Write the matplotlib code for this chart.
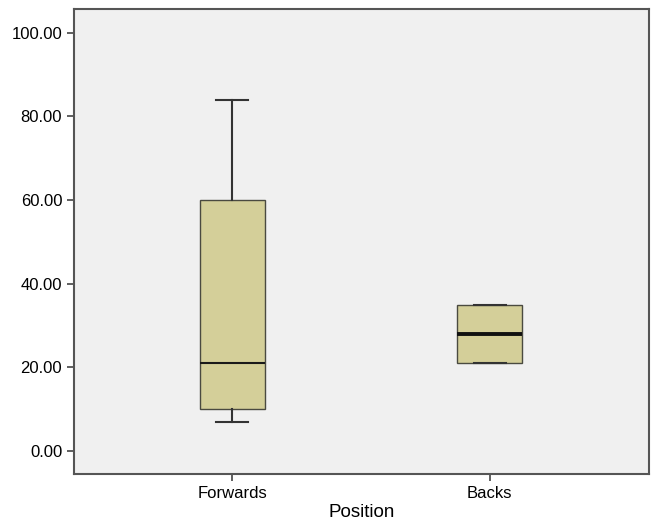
import matplotlib
matplotlib.use('Agg')
import matplotlib.pyplot as plt

plt.rcParams['font.family'] = ['Liberation Sans', 'DejaVu Sans']

# Box plot summary values
positions = ['Forwards', 'Backs']
whisker_low = [7, 21]
q1 = [10, 21]
median = [21, 28]
q3 = [60, 35]
whisker_high = [84, 35]
y_ticks = [0, 20, 40, 60, 80, 100]

stats = []
for i, name in enumerate(positions):
    stats.append({'label': name, 'whislo': whisker_low[i], 'q1': q1[i],
                  'med': median[i], 'q3': q3[i], 'whishi': whisker_high[i],
                  'fliers': []})

fig = plt.figure(figsize=(6.55, 5.22), dpi=100)
ax = fig.add_axes([0.113, 0.092, 0.878, 0.891])
ax.set_facecolor('#f0f0f0')

bp = ax.bxp(stats, positions=[1, 2], widths=0.252, patch_artist=True,
            showfliers=False,
            boxprops=dict(facecolor='#d4cf99', edgecolor='#4a4a40', linewidth=1),
            whiskerprops=dict(color='#333333', linewidth=1.5),
            capprops=dict(color='#333333', linewidth=1.5),
            medianprops=dict(color='#1a1a1a', linewidth=1.5),
            capwidths=0.126)
bp['medians'][1].set_linewidth(2.8)
bp['medians'][1].set_color('#111111')

ax.set_xlim(0.386, 2.618)
ax.set_ylim(-5.5, 105.7)
ax.set_yticks(y_ticks)
ax.set_yticklabels(['%.2f' % v for v in y_ticks])
ax.set_xlabel('Position', fontsize=13.5, labelpad=2)
ax.tick_params(axis='both', labelsize=12, color='#444444', length=5, width=1.2)
for side in ax.spines.values():
    side.set_color('#555555')
    side.set_linewidth(1.5)

fig.savefig('out.png', dpi=100)
